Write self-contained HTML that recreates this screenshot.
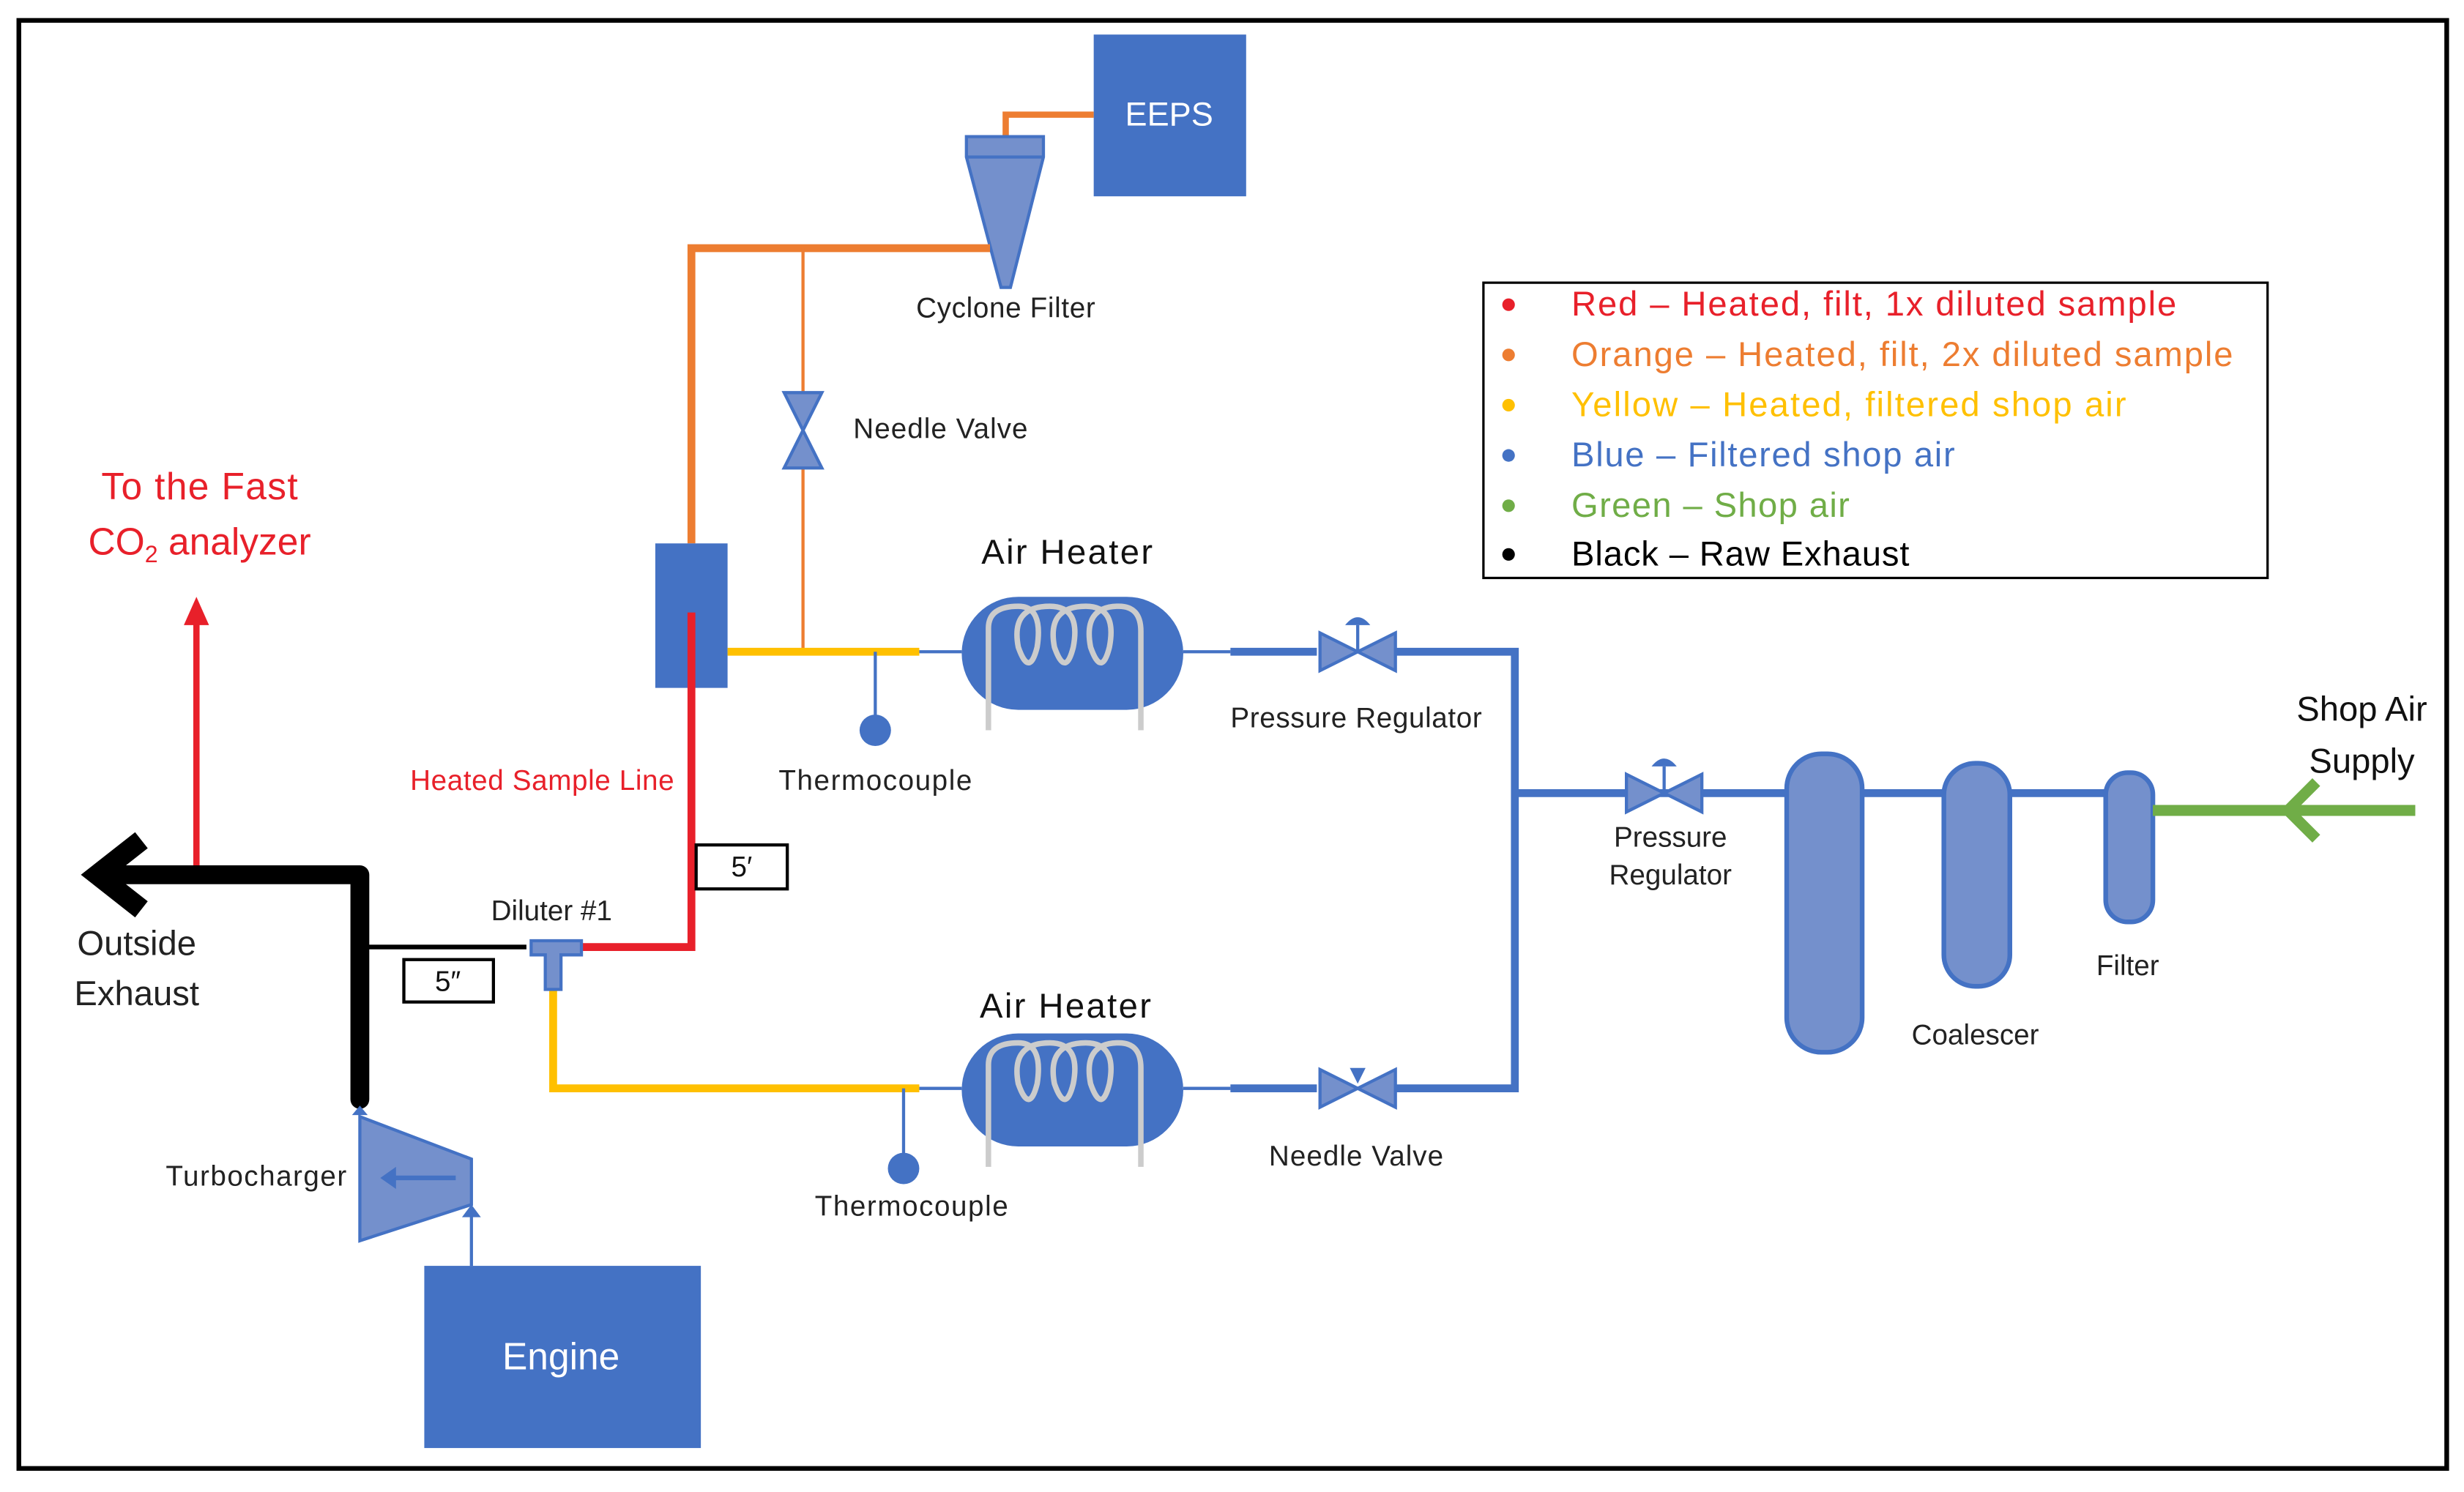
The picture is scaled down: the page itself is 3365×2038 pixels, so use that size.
<!DOCTYPE html>
<html><head><meta charset="utf-8"><style>
html,body{margin:0;padding:0;background:#fff}
svg{display:block}
text{font-family:"Liberation Sans",sans-serif}
</style></head><body>
<svg width="3365" height="2038" viewBox="0 0 1568 950" preserveAspectRatio="none" xmlns="http://www.w3.org/2000/svg">
<rect x="0" y="0" width="1568" height="950" fill="#fff"/>
<rect x="12" y="13" width="1545" height="922" fill="none" stroke="#000" stroke-width="3"/>

<!-- EEPS -->
<rect x="696" y="22" width="97" height="103" fill="#4472C4"/>
<text x="744" y="80" font-size="21" fill="#fff" text-anchor="middle">EEPS</text>
<polyline points="640,88 640,73 696,73" fill="none" stroke="#ED7D31" stroke-width="4"/>
<path d="M615,87 H664 V100 L643,183 H637 L615,100 Z" fill="#7490CC" stroke="#4472C4" stroke-width="2"/>
<line x1="615" y1="100" x2="664" y2="100" stroke="#4472C4" stroke-width="2"/>
<text x="640" y="202" font-size="18" fill="#222" text-anchor="middle" textLength="114">Cyclone Filter</text>

<polyline points="630,158 440,158 440,346" fill="none" stroke="#ED7D31" stroke-width="5"/>
<line x1="511" y1="158" x2="511" y2="415" stroke="#ED7D31" stroke-width="2"/>
<path d="M499,250 H523 L499,298 H523 Z" fill="#7490CC" stroke="#4472C4" stroke-width="2"/>
<text x="543" y="279" font-size="18" fill="#222" textLength="111">Needle Valve</text>

<rect x="417" y="346" width="46" height="92" fill="#4472C4"/>
<polyline points="440,390 440,603 370,603" fill="none" stroke="#E8202A" stroke-width="5"/>

<!-- top branch -->
<line x1="463" y1="415" x2="585" y2="415" stroke="#FFC000" stroke-width="5"/>
<line x1="585" y1="415" x2="612" y2="415" stroke="#4472C4" stroke-width="2"/>
<line x1="557" y1="415" x2="557" y2="458" stroke="#4472C4" stroke-width="2"/>
<circle cx="557" cy="465" r="10" fill="#4472C4"/>
<text x="557" y="503" font-size="18" fill="#222" text-anchor="middle" textLength="123">Thermocouple</text>
<text x="679" y="359" font-size="22" fill="#111" text-anchor="middle" textLength="109">Air Heater</text>
<g id="h1">
<rect x="612" y="380" width="141" height="72" rx="36" fill="#4472C4"/>
<path d="M629,465 V400 Q629,386 648,386 Q664,386 660,412 Q655,432 648,412 Q643,386 668,386 Q688,386 683,412 Q678,432 671,412 Q666,386 691,386 Q711,386 706,412 Q701,432 694,412 Q689,386 712,386 Q726,386 726,402 V465" fill="none" stroke="#ccc" stroke-width="3.5"/>
</g>
<line x1="753" y1="415" x2="783" y2="415" stroke="#4472C4" stroke-width="2"/>
<line x1="783" y1="415" x2="838" y2="415" stroke="#4472C4" stroke-width="5"/>
<path d="M840,403 L888,427 V403 L840,427 Z" fill="#7490CC" stroke="#4472C4" stroke-width="2"/>
<line x1="864" y1="415" x2="864" y2="398" stroke="#4472C4" stroke-width="2"/>
<path d="M856,398 Q864,388 872,398 Z" fill="#4472C4"/>
<polyline points="888,415 964,415 964,693 888,693" fill="none" stroke="#4472C4" stroke-width="5"/>
<text x="863" y="463" font-size="18" fill="#222" text-anchor="middle" textLength="160">Pressure Regulator</text>

<!-- bottom branch -->
<polyline points="352,628 352,693 585,693" fill="none" stroke="#FFC000" stroke-width="5"/>
<line x1="585" y1="693" x2="612" y2="693" stroke="#4472C4" stroke-width="2"/>
<line x1="575" y1="693" x2="575" y2="736" stroke="#4472C4" stroke-width="2"/>
<circle cx="575" cy="744" r="10" fill="#4472C4"/>
<text x="580" y="774" font-size="18" fill="#222" text-anchor="middle" textLength="123">Thermocouple</text>
<text x="678" y="648" font-size="22" fill="#111" text-anchor="middle" textLength="109">Air Heater</text>
<use href="#h1" transform="translate(0,278)"/>
<line x1="753" y1="693" x2="783" y2="693" stroke="#4472C4" stroke-width="2"/>
<line x1="783" y1="693" x2="838" y2="693" stroke="#4472C4" stroke-width="5"/>
<path d="M840,681 L888,705 V681 L840,705 Z" fill="#7490CC" stroke="#4472C4" stroke-width="2"/>
<path d="M859,680 H869 L864,690 Z" fill="#4472C4"/>
<text x="863" y="742" font-size="18" fill="#222" text-anchor="middle" textLength="111">Needle Valve</text>

<!-- supply side -->
<line x1="964" y1="505" x2="1370" y2="505" stroke="#4472C4" stroke-width="5"/>
<path d="M1035,493 L1083,517 V493 L1035,517 Z" fill="#7490CC" stroke="#4472C4" stroke-width="2"/>
<line x1="1059" y1="505" x2="1059" y2="488" stroke="#4472C4" stroke-width="2"/>
<path d="M1051,488 Q1059,478 1067,488 Z" fill="#4472C4"/>
<text x="1063" y="539" font-size="18" fill="#222" text-anchor="middle">Pressure</text>
<text x="1063" y="563" font-size="18" fill="#222" text-anchor="middle">Regulator</text>
<rect x="1137" y="480" width="48" height="190" rx="22" fill="#7490CC" stroke="#4472C4" stroke-width="3"/>
<rect x="1237" y="486" width="42" height="142" rx="20" fill="#7490CC" stroke="#4472C4" stroke-width="3"/>
<rect x="1340" y="492" width="30" height="95" rx="14" fill="#7490CC" stroke="#4472C4" stroke-width="3"/>
<text x="1257" y="665" font-size="18" fill="#222" text-anchor="middle">Coalescer</text>
<text x="1354" y="621" font-size="18" fill="#222" text-anchor="middle">Filter</text>
<line x1="1370" y1="516" x2="1537" y2="516" stroke="#70AD47" stroke-width="7"/>
<polyline points="1474,498 1456,516 1474,534" fill="none" stroke="#70AD47" stroke-width="7"/>
<text x="1503" y="459" font-size="22" fill="#111" text-anchor="middle">Shop Air</text>
<text x="1503" y="492" font-size="22" fill="#111" text-anchor="middle">Supply</text>

<!-- legend -->
<rect x="944" y="180" width="499" height="188" fill="#fff" stroke="#000" stroke-width="1.5"/>
<g font-size="22">
<circle cx="960" cy="194" r="4" fill="#E8202A"/><text x="1000" y="201" fill="#E8202A" textLength="385">Red – Heated, filt, 1x diluted sample</text>
<circle cx="960" cy="226" r="4" fill="#ED7D31"/><text x="1000" y="233" fill="#ED7D31" textLength="421">Orange – Heated, filt, 2x diluted sample</text>
<circle cx="960" cy="258" r="4" fill="#FFC000"/><text x="1000" y="265" fill="#FFC000" textLength="353">Yellow – Heated, filtered shop air</text>
<circle cx="960" cy="290" r="4" fill="#4472C4"/><text x="1000" y="297" fill="#4472C4" textLength="244">Blue – Filtered shop air</text>
<circle cx="960" cy="322" r="4" fill="#70AD47"/><text x="1000" y="329" fill="#70AD47" textLength="177">Green – Shop air</text>
<circle cx="960" cy="353" r="4" fill="#000"/><text x="1000" y="360" fill="#000" textLength="215">Black – Raw Exhaust</text>
</g>

<!-- exhaust -->
<line x1="125" y1="555" x2="125" y2="395" stroke="#E8202A" stroke-width="4"/>
<path d="M117,398 L125,380 L133,398 Z" fill="#E8202A"/>
<polyline points="229,700 229,557 75,557" fill="none" stroke="#000" stroke-width="12" stroke-linejoin="round" stroke-linecap="round"/>
<polyline points="90,535 62,557 90,579" fill="none" stroke="#000" stroke-width="13"/>
<line x1="229" y1="603" x2="335" y2="603" stroke="#000" stroke-width="3"/>
<text x="127" y="318" font-size="24" fill="#E8202A" text-anchor="middle" textLength="125">To the Fast</text>
<text x="127" y="353" font-size="24" fill="#E8202A" text-anchor="middle">CO<tspan font-size="15" dy="5">2</tspan><tspan dy="-5"> analyzer</tspan></text>
<text x="87" y="608" font-size="22" fill="#222" text-anchor="middle">Outside</text>
<text x="87" y="640" font-size="22" fill="#222" text-anchor="middle">Exhaust</text>
<text x="345" y="503" font-size="18" fill="#E8202A" text-anchor="middle" textLength="168">Heated Sample Line</text>
<rect x="257" y="611" width="57" height="27" fill="#fff" stroke="#000" stroke-width="2"/>
<text x="285" y="631" font-size="18" fill="#111" text-anchor="middle">5″</text>
<rect x="443" y="538" width="58" height="28" fill="#fff" stroke="#000" stroke-width="2"/>
<text x="472" y="558" font-size="18" fill="#111" text-anchor="middle">5′</text>
<path d="M338,599 H370 V608 H357 V630 H347 V608 H338 Z" fill="#7490CC" stroke="#4472C4" stroke-width="2"/>
<text x="351" y="586" font-size="18" fill="#222" text-anchor="middle">Diluter #1</text>

<!-- turbo -->
<path d="M229,711 L300,738 V767 L229,790 Z" fill="#7490CC" stroke="#4472C4" stroke-width="2"/>
<line x1="290" y1="750" x2="250" y2="750" stroke="#4472C4" stroke-width="3"/>
<path d="M252,743 L242,750 L252,757 Z" fill="#4472C4"/>
<path d="M224,710 L229,704 L234,710 Z" fill="#4472C4"/>
<line x1="300" y1="806" x2="300" y2="772" stroke="#4472C4" stroke-width="2"/>
<path d="M294,775 L300,767 L306,775 Z" fill="#4472C4"/>
<text x="163" y="755" font-size="18" fill="#222" text-anchor="middle" textLength="115">Turbocharger</text>
<rect x="270" y="806" width="176" height="116" fill="#4472C4"/>
<text x="357" y="872" font-size="24" fill="#fff" text-anchor="middle">Engine</text>
</svg>
</body></html>
